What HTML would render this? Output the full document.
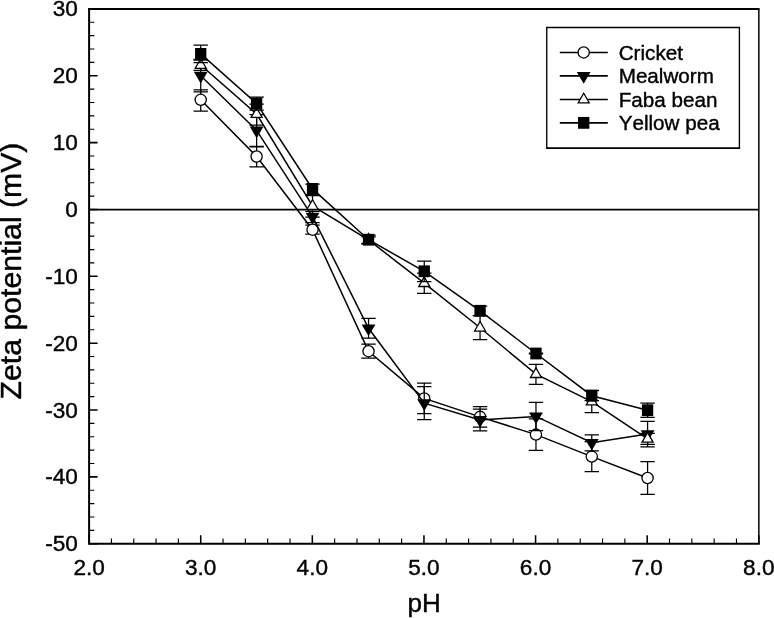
<!DOCTYPE html>
<html><head><meta charset="utf-8"><title>Zeta potential vs pH</title>
<style>
html,body{margin:0;padding:0;background:#fff;}
svg{display:block;will-change:transform;}
text{font-family:"Liberation Sans",sans-serif;fill:#000;font-kerning:none;stroke:#000;stroke-width:0.4px;}
</style></head><body>
<svg width="774" height="618" viewBox="0 0 774 618">
<rect width="774" height="618" fill="#fff"/>
<line x1="89.1" y1="209.55" x2="758.8" y2="209.55" stroke="#000" stroke-width="1.7"/>
<polyline points="200.72,99.8 256.62,156.5 312.53,229.7 368.54,351.2 424.25,398.4 480.06,416.85 535.97,434.6 591.77,456.6 647.58,478" fill="none" stroke="#000" stroke-width="1.5"/>
<path d="M200.72 89.8V111.2M193.52 89.8H207.92M193.52 111.2H207.92M256.62 146.8V166.8M249.43 146.8H263.82M249.43 166.8H263.82M312.53 225.2V234.1M305.33 225.2H319.73M305.33 234.1H319.73M368.54 344.2V358.2M361.34 344.2H375.74M361.34 358.2H375.74M424.25 383.1V413.7M417.05 383.1H431.45M417.05 413.7H431.45M480.06 406.6V427.1M472.86 406.6H487.26M472.86 427.1H487.26M535.97 418.9V450.3M528.77 418.9H543.17M528.77 450.3H543.17M591.77 441.65V471.55M584.57 441.65H598.97M584.57 471.55H598.97M647.58 461.7V494.3M640.38 461.7H654.78M640.38 494.3H654.78" fill="none" stroke="#000" stroke-width="1.25"/>
<circle cx="200.72" cy="99.8" r="5.6" fill="#fff" stroke="#000" stroke-width="1.3"/>
<circle cx="256.62" cy="156.5" r="5.6" fill="#fff" stroke="#000" stroke-width="1.3"/>
<circle cx="312.53" cy="229.7" r="5.6" fill="#fff" stroke="#000" stroke-width="1.3"/>
<circle cx="368.54" cy="351.2" r="5.6" fill="#fff" stroke="#000" stroke-width="1.3"/>
<circle cx="424.25" cy="398.4" r="5.6" fill="#fff" stroke="#000" stroke-width="1.3"/>
<circle cx="480.06" cy="416.85" r="5.6" fill="#fff" stroke="#000" stroke-width="1.3"/>
<circle cx="535.97" cy="434.6" r="5.6" fill="#fff" stroke="#000" stroke-width="1.3"/>
<circle cx="591.77" cy="456.6" r="5.6" fill="#fff" stroke="#000" stroke-width="1.3"/>
<circle cx="647.58" cy="478" r="5.6" fill="#fff" stroke="#000" stroke-width="1.3"/>
<polyline points="200.72,75.75 256.62,130.4 312.53,216.6 368.54,328.3 424.25,403.1 480.06,420 535.97,416.4 591.77,442.8 647.58,434.1" fill="none" stroke="#000" stroke-width="1.5"/>
<path d="M200.72 59.3V91.9M193.52 59.3H207.92M193.52 91.9H207.92M256.62 114.5V146.3M249.43 114.5H263.82M249.43 146.3H263.82M312.53 211.4V222.7M305.33 211.4H319.73M305.33 222.7H319.73M368.54 318.45V338.15M361.34 318.45H375.74M361.34 338.15H375.74M424.25 386.6V419.6M417.05 386.6H431.45M417.05 419.6H431.45M480.06 409.1V430.9M472.86 409.1H487.26M472.86 430.9H487.26M535.97 402.3V430.5M528.77 402.3H543.17M528.77 430.5H543.17M591.77 434.75V450.85M584.57 434.75H598.97M584.57 450.85H598.97M647.58 421.35V446.85M640.38 421.35H654.78M640.38 446.85H654.78" fill="none" stroke="#000" stroke-width="1.25"/>
<path d="M193.82 71.85L207.62 71.85L200.72 83.55Z" fill="#000"/>
<path d="M249.72 126.5L263.52 126.5L256.62 138.2Z" fill="#000"/>
<path d="M305.63 212.7L319.43 212.7L312.53 224.4Z" fill="#000"/>
<path d="M361.64 324.4L375.44 324.4L368.54 336.1Z" fill="#000"/>
<path d="M417.35 399.2L431.15 399.2L424.25 410.9Z" fill="#000"/>
<path d="M473.16 416.1L486.96 416.1L480.06 427.8Z" fill="#000"/>
<path d="M529.07 412.5L542.87 412.5L535.97 424.2Z" fill="#000"/>
<path d="M584.87 438.9L598.67 438.9L591.77 450.6Z" fill="#000"/>
<path d="M640.68 430.2L654.48 430.2L647.58 441.9Z" fill="#000"/>
<polyline points="200.72,65 256.62,114.1 312.53,206 368.54,239.9 424.25,283.2 480.06,327.75 535.97,374.2 591.77,401.6 647.58,438.9" fill="none" stroke="#000" stroke-width="1.5"/>
<path d="M200.72 60V70.4M193.52 60H207.92M193.52 70.4H207.92M256.62 104.2V125.1M249.43 104.2H263.82M249.43 125.1H263.82M312.53 195.7V217.1M305.33 195.7H319.73M305.33 217.1H319.73M368.54 236.9V243.7M361.34 236.9H375.74M361.34 243.7H375.74M424.25 273V293.4M417.05 273H431.45M417.05 293.4H431.45M480.06 315.5V339.5M472.86 315.5H487.26M472.86 339.5H487.26M535.97 364.4V384.3M528.77 364.4H543.17M528.77 384.3H543.17M591.77 390.5V412.7M584.57 390.5H598.97M584.57 412.7H598.97M647.58 433.4V444.4M640.38 433.4H654.78M640.38 444.4H654.78" fill="none" stroke="#000" stroke-width="1.25"/>
<path d="M195.22 68.3L206.22 68.3L200.72 58.7Z" fill="#fff" stroke="#000" stroke-width="1.3" stroke-linejoin="miter"/>
<path d="M251.12 117.4L262.12 117.4L256.62 107.8Z" fill="#fff" stroke="#000" stroke-width="1.3" stroke-linejoin="miter"/>
<path d="M307.03 209.3L318.03 209.3L312.53 199.7Z" fill="#fff" stroke="#000" stroke-width="1.3" stroke-linejoin="miter"/>
<path d="M363.04 243.2L374.04 243.2L368.54 233.6Z" fill="#fff" stroke="#000" stroke-width="1.3" stroke-linejoin="miter"/>
<path d="M418.75 286.5L429.75 286.5L424.25 276.9Z" fill="#fff" stroke="#000" stroke-width="1.3" stroke-linejoin="miter"/>
<path d="M474.56 331.05L485.56 331.05L480.06 321.45Z" fill="#fff" stroke="#000" stroke-width="1.3" stroke-linejoin="miter"/>
<path d="M530.47 377.5L541.47 377.5L535.97 367.9Z" fill="#fff" stroke="#000" stroke-width="1.3" stroke-linejoin="miter"/>
<path d="M586.27 404.9L597.27 404.9L591.77 395.3Z" fill="#fff" stroke="#000" stroke-width="1.3" stroke-linejoin="miter"/>
<path d="M642.08 442.2L653.08 442.2L647.58 432.6Z" fill="#fff" stroke="#000" stroke-width="1.3" stroke-linejoin="miter"/>
<polyline points="200.72,53.9 256.62,103.5 312.53,188.9 368.54,239.7 424.25,271.3 480.06,310.8 535.97,353.5 591.77,395.7 647.58,410.2" fill="none" stroke="#000" stroke-width="1.5"/>
<path d="M200.72 45.1V62.5M193.52 45.1H207.92M193.52 62.5H207.92M256.62 97V110M249.43 97H263.82M249.43 110H263.82M312.53 184V194.7M305.33 184H319.73M305.33 194.7H319.73M368.54 235V243.9M361.34 235H375.74M361.34 243.9H375.74M424.25 261.1V281.5M417.05 261.1H431.45M417.05 281.5H431.45M480.06 306.05V315.55M472.86 306.05H487.26M472.86 315.55H487.26M535.97 353.1V353.9M528.77 353.1H543.17M528.77 353.9H543.17M591.77 390.3V400.6M584.57 390.3H598.97M584.57 400.6H598.97M647.58 403V417.4M640.38 403H654.78M640.38 417.4H654.78" fill="none" stroke="#000" stroke-width="1.25"/>
<rect x="195.07" y="48" width="11.3" height="11.8" fill="#000"/>
<rect x="250.97" y="97.6" width="11.3" height="11.8" fill="#000"/>
<rect x="306.88" y="183" width="11.3" height="11.8" fill="#000"/>
<rect x="362.89" y="233.8" width="11.3" height="11.8" fill="#000"/>
<rect x="418.6" y="265.4" width="11.3" height="11.8" fill="#000"/>
<rect x="474.41" y="304.9" width="11.3" height="11.8" fill="#000"/>
<rect x="530.32" y="347.6" width="11.3" height="11.8" fill="#000"/>
<rect x="586.12" y="389.8" width="11.3" height="11.8" fill="#000"/>
<rect x="641.93" y="404.3" width="11.3" height="11.8" fill="#000"/>
<path d="M88.1 8.95H759.6" fill="none" stroke="#000" stroke-width="1.9"/>
<path d="M758.85 8.9V543.7" fill="none" stroke="#000" stroke-width="1.5"/>
<path d="M89.1 8.9V543.7H758.8" fill="none" stroke="#000" stroke-width="2" stroke-linecap="square"/>
<path d="M89.1 8.9h8.5M89.1 75.75h8.5M89.1 142.6h8.5M89.1 209.45h8.5M89.1 276.3h8.5M89.1 343.15h8.5M89.1 410h8.5M89.1 476.85h8.5M89.1 543.7h8.5M89.1 543.7v-8.5M200.72 543.7v-8.5M312.33 543.7v-8.5M423.95 543.7v-8.5M535.57 543.7v-8.5M647.18 543.7v-8.5M758.8 543.7v-8.5" fill="none" stroke="#000" stroke-width="1.55"/>
<path d="M89.1 22.27h5.3M89.1 35.64h5.3M89.1 49.01h5.3M89.1 62.38h5.3M89.1 89.12h5.3M89.1 102.49h5.3M89.1 115.86h5.3M89.1 129.23h5.3M89.1 155.97h5.3M89.1 169.34h5.3M89.1 182.71h5.3M89.1 196.08h5.3M89.1 222.82h5.3M89.1 236.19h5.3M89.1 249.56h5.3M89.1 262.93h5.3M89.1 289.67h5.3M89.1 303.04h5.3M89.1 316.41h5.3M89.1 329.78h5.3M89.1 356.52h5.3M89.1 369.89h5.3M89.1 383.26h5.3M89.1 396.63h5.3M89.1 423.37h5.3M89.1 436.74h5.3M89.1 450.11h5.3M89.1 463.48h5.3M89.1 490.22h5.3M89.1 503.59h5.3M89.1 516.96h5.3M89.1 530.33h5.3M111.42 543.7v-5.3M133.75 543.7v-5.3M156.07 543.7v-5.3M178.39 543.7v-5.3M223.04 543.7v-5.3M245.36 543.7v-5.3M267.69 543.7v-5.3M290.01 543.7v-5.3M334.66 543.7v-5.3M356.98 543.7v-5.3M379.3 543.7v-5.3M401.63 543.7v-5.3M446.27 543.7v-5.3M468.6 543.7v-5.3M490.92 543.7v-5.3M513.24 543.7v-5.3M557.89 543.7v-5.3M580.21 543.7v-5.3M602.54 543.7v-5.3M624.86 543.7v-5.3M669.51 543.7v-5.3M691.83 543.7v-5.3M714.15 543.7v-5.3M736.48 543.7v-5.3" fill="none" stroke="#000" stroke-width="1.15"/>
<text transform="translate(77.8,16.4) scale(1,1.0)" text-anchor="end" font-size="22.6">30</text>
<text transform="translate(77.8,83.25) scale(1,1.0)" text-anchor="end" font-size="22.6">20</text>
<text transform="translate(77.8,150.1) scale(1,1.0)" text-anchor="end" font-size="22.6">10</text>
<text transform="translate(77.8,216.95) scale(1,1.0)" text-anchor="end" font-size="22.6">0</text>
<text transform="translate(77.8,283.8) scale(1,1.0)" text-anchor="end" font-size="22.6">-10</text>
<text transform="translate(77.8,350.65) scale(1,1.0)" text-anchor="end" font-size="22.6">-20</text>
<text transform="translate(77.8,417.5) scale(1,1.0)" text-anchor="end" font-size="22.6">-30</text>
<text transform="translate(77.8,484.35) scale(1,1.0)" text-anchor="end" font-size="22.6">-40</text>
<text transform="translate(77.8,551.2) scale(1,1.0)" text-anchor="end" font-size="22.6">-50</text>
<text transform="translate(89.1,575.3) scale(1,1.015)" text-anchor="middle" font-size="22.6">2.0</text>
<text transform="translate(200.72,575.3) scale(1,1.015)" text-anchor="middle" font-size="22.6">3.0</text>
<text transform="translate(312.33,575.3) scale(1,1.015)" text-anchor="middle" font-size="22.6">4.0</text>
<text transform="translate(423.95,575.3) scale(1,1.015)" text-anchor="middle" font-size="22.6">5.0</text>
<text transform="translate(535.57,575.3) scale(1,1.015)" text-anchor="middle" font-size="22.6">6.0</text>
<text transform="translate(647.18,575.3) scale(1,1.015)" text-anchor="middle" font-size="22.6">7.0</text>
<text transform="translate(758.8,575.3) scale(1,1.015)" text-anchor="middle" font-size="22.6">8.0</text>
<text transform="translate(424.1,611.7) scale(1.04,1.0)" text-anchor="middle" font-size="25">pH</text>
<text transform="translate(21.4,271) rotate(-90) scale(1.024,1)" text-anchor="middle" font-size="29.5">Zeta potential (mV)</text>
<rect x="546.75" y="27.5" width="192.65" height="120.6" fill="#fff"/>
<path d="M546.1 27.5H740.05M546.1 148.1H740.05" fill="none" stroke="#000" stroke-width="1.7"/>
<path d="M546.75 27.5V148.1M739.4 27.5V148.1" fill="none" stroke="#000" stroke-width="1.35"/>
<line x1="559.8" y1="52.45" x2="607.8" y2="52.45" stroke="#000" stroke-width="1.6"/>
<circle cx="583.7" cy="52.45" r="5.6" fill="#fff" stroke="#000" stroke-width="1.3"/>
<text transform="translate(618.7,59.75) scale(1,1.0)" text-anchor="start" font-size="20.65">Cricket</text>
<line x1="559.8" y1="75.85" x2="607.8" y2="75.85" stroke="#000" stroke-width="1.6"/>
<path d="M576.8 71.95L590.6 71.95L583.7 83.65Z" fill="#000"/>
<text transform="translate(618.7,83.15) scale(1,1.0)" text-anchor="start" font-size="20.65">Mealworm</text>
<line x1="559.8" y1="99.5" x2="607.8" y2="99.5" stroke="#000" stroke-width="1.6"/>
<path d="M578.2 102.8L589.2 102.8L583.7 93.2Z" fill="#fff" stroke="#000" stroke-width="1.3" stroke-linejoin="miter"/>
<text transform="translate(618.7,106.8) scale(1,1.0)" text-anchor="start" font-size="20.65">Faba bean</text>
<line x1="559.8" y1="122.85" x2="607.8" y2="122.85" stroke="#000" stroke-width="1.6"/>
<rect x="578.05" y="116.95" width="11.3" height="11.8" fill="#000"/>
<text transform="translate(618.7,130.15) scale(1,1.0)" text-anchor="start" font-size="20.65">Yellow pea</text>
</svg>
</body></html>
